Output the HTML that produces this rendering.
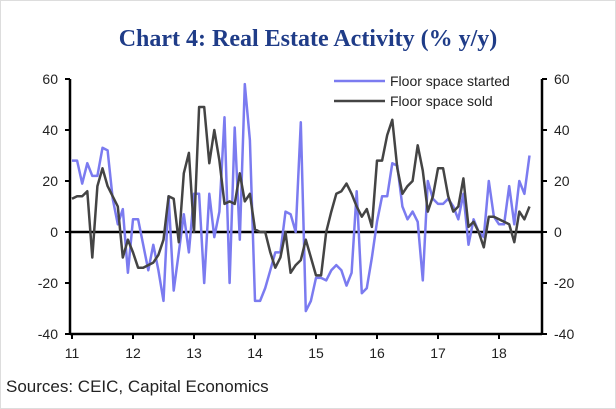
<!DOCTYPE html>
<html><head><meta charset="utf-8"><style>
body{margin:0;background:#fff;}
svg{display:block;font-family:"Liberation Sans",sans-serif;}
</style></head><body>
<svg id="chart" width="616" height="409">
<rect x="0.5" y="0.5" width="615" height="408" fill="#fff" stroke="#ddd"/>
<text x="308" y="46" text-anchor="middle" font-family="Liberation Serif,serif" font-weight="bold" font-size="24" fill="#1f3c88">Chart 4: Real Estate Activity (% y/y)</text>
<text x="6" y="392" font-size="17" fill="#222">Sources: CEIC, Capital Economics</text>
<g id="axes"></g>
<g id="series"></g>
<g>
<line x1="334" y1="81" x2="385" y2="81" stroke="#7b7bf0" stroke-width="2.5"/>
<text x="390" y="86" font-size="14" fill="#222">Floor space started</text>
<line x1="334" y1="101" x2="385" y2="101" stroke="#444" stroke-width="2.5"/>
<text x="390" y="106" font-size="14" fill="#222">Floor space sold</text>
</g>
</svg>
<script>
const yTicks=[60,40,20,0,-20,-40];
const xLabels=["11","12","13","14","15","16","17","18"];
const started=[28,28,19,27,22,22,33,32,13,3,9,-16,5,5,-5,-15,-5,-15,-27,14,-23,-8,7,-8,15,15,-20,15,-2,8,45,-20,41,-3,58,36,-27,-27,-22,-15,-8,-8,8,7,0,43,-31,
-27,-18,-18,-19,-15,-13,-15,-21,-16,16,-24,-22,-10,4,14,14,27,26,10,5,8,4,-19,20,13,11,11,13,10,5,15,-5,5,0,-2,20,6,3,3,18,3,20,15,30];
const sold=[13,14,14,16,-10,18,25,18,14,10,-10,-3,-8,-14,-14,-13,-12,-9,-3,14,13,-4,23,31,0,49,49,27,40,28,11,12,11,23,12,15,1,0,0,-8,-14,-10,0,
-16,-13,-11,-3,-10,-17,-17,0,8,15,16,19,15,10,6,9,2,28,28,38,44,25,15,18,20,34,24,8,14,25,25,14,8,10,21,2,4,0,-6,6,6,5,4,3,-4,8,5,10];
const X0=72,YEARW=61,L=70,R=542;
const xs=i=>X0+i*YEARW/12;
const ys=v=>232-v*51/20;
const NS="http://www.w3.org/2000/svg";
const ax=document.getElementById('axes'),se=document.getElementById('series');
function mk(tag,attrs,parent){const e=document.createElementNS(NS,tag);for(const k in attrs)e.setAttribute(k,attrs[k]);parent.appendChild(e);return e;}
let e;
e=mk('line',{x1:L,y1:ys(60),x2:L,y2:ys(-40),stroke:'#000','stroke-width':2.5},ax);


e=mk('line',{x1:R,y1:ys(60),x2:R,y2:ys(-40),stroke:'#000','stroke-width':2.5},ax);


e=mk('line',{x1:L,y1:ys(-40),x2:R,y2:ys(-40),stroke:'#000','stroke-width':2.5},ax);


e=mk('line',{x1:L,y1:ys(0),x2:R,y2:ys(0),stroke:'#000','stroke-width':2.5},ax);


yTicks.forEach(v=>{
 mk('line',{x1:L-5,y1:ys(v),x2:L,y2:ys(v),stroke:'#000','stroke-width':2},ax);
 mk('line',{x1:R,y1:ys(v),x2:R+5,y2:ys(v),stroke:'#000','stroke-width':2},ax);
 let t=mk('text',{x:L-12,y:ys(v)+5,'text-anchor':'end','font-size':14,fill:'#222'},ax);t.textContent=v;
 
 
 t=mk('text',{x:R+12,y:ys(v)+5,'font-size':14,fill:'#222'},ax);t.textContent=v;
 
 
});
xLabels.forEach((s,k)=>{
 const x=xs(k*12);
 mk('line',{x1:x,y1:ys(-40),x2:x,y2:ys(-40)+5,stroke:'#000','stroke-width':2},ax);
 let t=mk('text',{x:x,y:358,'text-anchor':'middle','font-size':14,fill:'#222'},ax);t.textContent=s;
 
 
});
function line(arr,col,name){
 const p=mk('polyline',{points:arr.map((v,i)=>xs(i).toFixed(1)+','+ys(v).toFixed(1)).join(' '),fill:'none',stroke:col,'stroke-width':2.5,'stroke-linejoin':'round'},se);
 
 
}
line(started,'#7b7bf0','started-line');
line(sold,'#444','sold-line');
</script>
</body></html>
